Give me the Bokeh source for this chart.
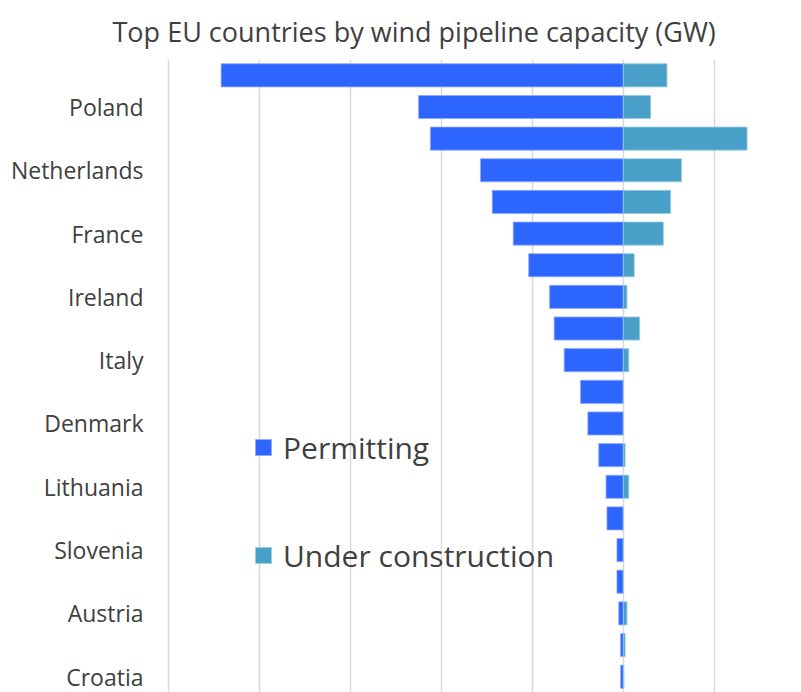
from bokeh.plotting import figure
from bokeh.models import (Range1d, FactorRange, Legend, LegendItem, FixedTicker,
                          ColumnDataSource, CustomJSTickFormatter)
from bokeh.embed import file_html
from bokeh.resources import INLINE

countries = ["Germany", "Poland", "Spain", "Netherlands", "Sweden", "France", "Finland",
             "Ireland", "Greece", "Italy", "Portugal", "Denmark", "Belgium", "Lithuania",
             "Estonia", "Slovenia", "Latvia", "Austria", "Romania", "Croatia"]
shown_labels = ["Poland", "Netherlands", "France", "Ireland", "Italy", "Denmark",
                "Lithuania", "Slovenia", "Austria", "Croatia"]
permitting = [22.1, 11.25, 10.6, 7.85, 7.2, 6.05, 5.2, 4.05, 3.8, 3.25,
              2.35, 1.95, 1.35, 0.95, 0.9, 0.35, 0.35, 0.25, 0.15, 0.15]
under_construction = [2.4, 1.5, 6.8, 3.2, 2.6, 2.2, 0.6, 0.2, 0.9, 0.3,
                      0.0, 0.0, 0.1, 0.3, 0.0, 0.0, 0.0, 0.2, 0.1, 0.03]
x_ticks = [-25, -20, -15, -10, -5, 0, 5, 10]

src = ColumnDataSource(dict(
    country=countries,
    neg_perm=[-v for v in permitting],
    uc=under_construction,
    zero=[0] * len(countries),
))

p = figure(width=801, height=692, output_backend="svg", toolbar_location=None,
           y_range=FactorRange(factors=list(reversed(countries))),
           x_range=Range1d(-25.1, 9.79),
           min_border_left=166, min_border_right=0, min_border_top=59, min_border_bottom=0,
           title="Top EU countries by wind pipeline capacity (GW)")
p.outline_line_color = None
p.background_fill_color = "white"
p.border_fill_color = "white"

p.title.text_font = "Open Sans"
p.title.text_font_size = "27px"
p.title.text_font_style = "normal"
p.title.text_color = "#404040"
p.title.align = "left"
p.title.offset = -54
p.title.standoff = 20

r1 = p.hbar(y="country", left="neg_perm", right="zero", height=0.73, source=src,
            fill_color="#2D66FF", line_color="#8FA8FF", line_width=0.8)
r2 = p.hbar(y="country", left="zero", right="uc", height=0.73, source=src,
            fill_color="#48A0C8", line_color="#9CCBE0", line_width=0.8)

p.xaxis.visible = False
p.xgrid.ticker = FixedTicker(ticks=x_ticks)
p.xgrid.grid_line_color = "#D9D9D9"
p.xgrid.grid_line_width = 1.5
p.ygrid.grid_line_color = None

yax = p.yaxis[0]
yax.axis_line_color = None
yax.major_tick_line_color = None
yax.minor_tick_line_color = None
yax.major_tick_out = 0
yax.major_label_standoff = 23
yax.major_label_text_font = "Open Sans"
yax.major_label_text_font_size = "23px"
yax.major_label_text_color = "#404040"
yax.formatter = CustomJSTickFormatter(args=dict(shown=shown_labels),
                                      code="return shown.includes(tick) ? tick : '';")

legend = Legend(items=[LegendItem(label="Permitting", renderers=[r1]),
                       LegendItem(label="Under construction", renderers=[r2])],
                location=(87, 116), orientation="vertical",
                label_text_font="Open Sans", label_text_font_size="30px",
                label_text_color="#404040", glyph_width=20, glyph_height=20,
                label_height=42, spacing=66, label_standoff=10,
                padding=0, margin=0, border_line_color=None,
                background_fill_alpha=0)
p.add_layout(legend, "center")

open("out.html", "w").write(file_html(p, INLINE))
